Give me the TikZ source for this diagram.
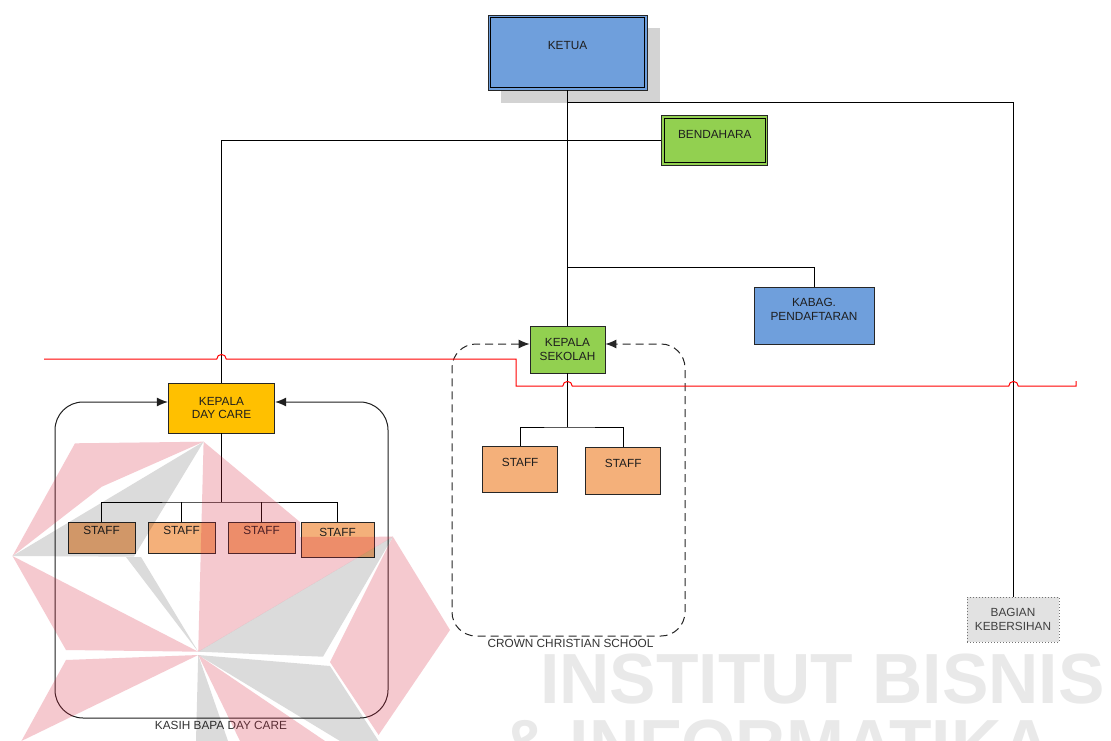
\documentclass[tikz,border=0pt]{standalone}
\usepackage{fontspec}
\setmainfont{Liberation Sans}
\usetikzlibrary{arrows.meta,calc}
\definecolor{blu}{HTML}{6F9FDC}
\definecolor{grn}{HTML}{92D050}
\definecolor{org}{HTML}{FFC000}
\definecolor{stf}{HTML}{F4B07A}
\definecolor{shd}{HTML}{D3D3D3}
\definecolor{bgr}{HTML}{E2E2E2}
\definecolor{txt}{HTML}{1E1E1E}
\definecolor{wred}{HTML}{D81E3A}
\definecolor{wtxt}{HTML}{E9E9E9}
\begin{document}
\begin{tikzpicture}[x=1pt,y=-1pt,
  font=\fontsize{11.8}{13.8}\selectfont,
  bx/.style={draw=black!85, line width=0.8pt, inner sep=0pt, text=txt, align=center},
  lbl/.style={text=txt, align=center, inner sep=0pt},
  ln/.style={draw=black, line width=0.8pt},
  redln/.style={draw=red, line width=1pt},
  tp/.style={{Latex[length=11pt,width=9pt]}-{Latex[length=11pt,width=9pt]}},
  dframe/.style={draw=black!85, line width=1pt, dash pattern=on 8pt off 5pt, rounded corners=24pt},
  sframe/.style={draw=black!88, line width=1pt, rounded corners=28pt},
  wmr/.style={fill=wred, fill opacity=0.24},
  wmg/.style={fill=black, fill opacity=0.14}]
\useasboundingbox (0,0) rectangle (1111,741);
\fill[white] (0,0) rectangle (1111,741);

% watermark text (behind)
\begin{scope}
\clip (0,0) rectangle (1111,741);
\node[anchor=base west, inner sep=0pt, text=wtxt, font=\fontsize{71}{71}\selectfont\bfseries, xscale=0.98] (wm1) at (540,703) {INSTITUT BISNIS};
\node[anchor=base west, inner sep=0pt, text=wtxt, font=\fontsize{71}{71}\selectfont\bfseries, xscale=0.98] (wm2) at (500,769) {\& INFORMATIKA};
\end{scope}

% shadow of KETUA
\fill[shd] (501,28) rectangle (660,103);

% nodes
\node[bx, fill=blu, minimum width=159pt, minimum height=75pt,
  label={[lbl,yshift=7.5pt]center:KETUA}] (ketua) at (567.5,52.5) {};
\draw[line width=0.8pt] ([shift={(3,3)}]ketua.north west) rectangle ([shift={(-3,-3)}]ketua.south east);

\node[bx, fill=grn, minimum width=106pt, minimum height=50pt,
  label={[lbl,yshift=6pt]center:BENDAHARA}] (bend) at (714.8,140.5) {};
\draw[line width=0.8pt] ([shift={(3,3)}]bend.north west) rectangle ([shift={(-3,-3)}]bend.south east);

\node[bx, fill=blu, minimum width=120pt, minimum height=57pt,
  label={[lbl,yshift=6.5pt]center:{KABAG.\\PENDAFTARAN}}] (kabag) at (814,315.5) {};

\node[bx, fill=grn, minimum width=75pt, minimum height=47pt] (ks) at (567.5,349.5) {KEPALA\\SEKOLAH};

\node[bx, fill=org, minimum width=106.5pt, minimum height=50pt] (kdc) at (221.5,408) {KEPALA\\DAY CARE};

\node[bx, fill=stf, minimum width=75pt, minimum height=46.7pt,
  label={[lbl,yshift=7pt]center:STAFF}] (cs1) at (520.2,469.3) {};
\node[bx, fill=stf, minimum width=75pt, minimum height=46.7pt,
  label={[lbl,yshift=7.5pt]center:STAFF}] (cs2) at (623.2,470.7) {};

\node[bx, fill=stf, minimum width=67pt, minimum height=31pt,
  label={[lbl,yshift=7.5pt]center:STAFF}] (ds1) at (101.5,537.5) {};
\node[bx, fill=stf, minimum width=67pt, minimum height=31pt,
  label={[lbl,yshift=7.5pt]center:STAFF}] (ds2) at (181.5,537.5) {};
\node[bx, fill=stf, minimum width=67pt, minimum height=31pt,
  label={[lbl,yshift=7.5pt]center:STAFF}] (ds3) at (261.5,537.5) {};
\node[bx, fill=stf, minimum width=73pt, minimum height=35pt,
  label={[lbl,yshift=7.5pt]center:STAFF}] (ds4) at (337.5,539.5) {};

\node[bx, draw=black!55, dash pattern=on 1pt off 2pt, fill=bgr, minimum width=92pt, minimum height=45pt, text=black!75] (bk) at (1013,619.5) {BAGIAN\\KEBERSIHAN};

% frame labels
\node[lbl, text=black!80] (lcs) at (570.5,643) {CROWN CHRISTIAN SCHOOL};
\node[lbl, text=black!80] (ldc) at (221,725) {KASIH BAPA DAY CARE};

% junction coordinates
\coordinate (j1) at (567.5,102);
\coordinate (j2) at (567.5,267);
\coordinate (b1) at (221.5,502);
\coordinate (b2) at (567.5,427);

% connectors
\draw[ln, line width=1.1pt] (ketua.south) -- (ks.north);
\draw[ln] (j1) -| (bk.north);
\draw[ln] (bend.west) -| (kdc.north);
\draw[ln] (j2) -| (kabag.north);
\draw[ln] (ks.south) -- (b2);
\draw[ln] (cs1.north) |- (b2) -| (cs2.north);
\draw[ln] (kdc.south) -- (b1);
\draw[ln] (ds1.north) |- (b1) -| (ds4.north);
\draw[ln] (ds2.north) -- (ds2.north |- b1);
\draw[ln] (ds3.north) -- (ds3.north |- b1);

% frames with arrows
\draw[dframe, tp]
  ($(ks.west)+(0,-5.5)$) -- (452,344) -- (452,636) -- (685,636) -- (685,344) -- ($(ks.east)+(0,-5.5)$);
\draw[sframe, tp]
  ($(kdc.west)+(0,-6)$) -- (55,402) -- (55,718) -- (388,718) -- (388,402) -- ($(kdc.east)+(0,-6)$);

% red line with jumps
\draw[redln] (44,359) -- (216.8,359) .. controls +(0,-6) and +(0,-6) .. (226.2,359)
  -- (516,359) -- (516,386) -- (562.8,386) .. controls +(0,-6) and +(0,-6) .. (572.2,386)
  -- (1008.8,386) .. controls +(0,-6) and +(0,-6) .. (1018.2,386) -- (1076,386) -- (1076,381);

% watermark logo (over the drawing, translucent)
\begin{scope}
\clip (0,0) rectangle (1111,741);
\fill[wmr] (75,443.3) -- (203.6,441.7) -- (101.8,486.7) -- (12.5,556) -- cycle;
\fill[wmg] (203.6,441.7) -- (12.5,556) -- (133.9,556.7) -- cycle;
\fill[wmg] (126,557) -- (141,557) -- (198.2,651.7) -- cycle;
\fill[wmr] (12.5,556) -- (198.2,651.7) -- (66,650) -- cycle;
\fill[wmr] (203.6,441.7) -- (300,522) -- (300,537) -- (392.9,536.7) -- (198.2,651.7) -- cycle;
\fill[wmg] (392.9,536.7) -- (323,656.7) -- (198.2,651.7) -- cycle;
\fill[wmr] (392.9,536.7) -- (450,630) -- (378.6,735) -- (330,662) -- cycle;
\fill[wmg] (330,666) -- (378.6,741) -- (340,741) -- (198.2,655) -- cycle;
\fill[wmr] (66,660) -- (198.2,655) -- (21.4,741) -- cycle;
\fill[wmg] (198.2,655) -- (196,741) -- (228,741) -- cycle;
\fill[wmr] (198.2,655) -- (240,741) -- (325,741) -- cycle;
\end{scope}
\end{tikzpicture}
\end{document}
